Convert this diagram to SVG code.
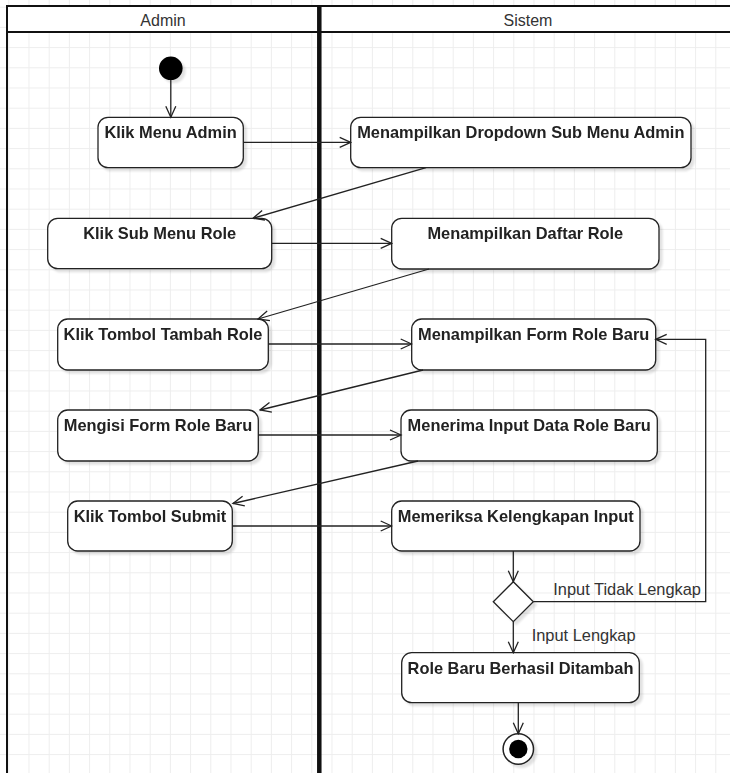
<svg xmlns="http://www.w3.org/2000/svg" width="730" height="773" viewBox="0 0 730 773">
  <defs>
    <pattern id="grid" patternUnits="userSpaceOnUse" x="8.3" y="6.7" width="20.2" height="20.2">
      <path d="M0.5,0 V20.2 M0,0.5 H20.2" fill="none" stroke="#ededed" stroke-width="1"/>
    </pattern>
    <filter id="sh" x="-20%" y="-20%" width="150%" height="150%">
      <feGaussianBlur in="SourceAlpha" stdDeviation="1.2"/>
      <feOffset dx="3" dy="3" result="b"/>
      <feComponentTransfer><feFuncA type="linear" slope="0.12"/></feComponentTransfer>
      <feMerge><feMergeNode/><feMergeNode in="SourceGraphic"/></feMerge>
    </filter>
    <marker id="arr" markerUnits="userSpaceOnUse" markerWidth="14" markerHeight="12" viewBox="0 0 14 12" refX="12.5" refY="6" orient="auto">
      <path d="M1.5,1 L12.5,6 L1.5,11" fill="none" stroke="#222" stroke-width="1.3"/>
    </marker>
    <style>
      .node rect { fill: #fff; stroke: #222; stroke-width: 1.3; }
      .node text { font-family: "Liberation Sans", Arial, sans-serif; font-size: 16.4px; font-weight: bold; fill: #222; text-anchor: middle; }
      .lane { font-family: "Liberation Sans", Arial, sans-serif; font-size: 16px; fill: #333; text-anchor: middle; }
      .lbl { font-family: "Liberation Sans", Arial, sans-serif; font-size: 16.4px; fill: #333; }
      .edges path { fill: none; stroke: #222; stroke-width: 1.3; marker-end: url(#arr); }
    </style>
  </defs>

  <rect x="0" y="0" width="730" height="773" fill="#fff"/>
  <rect x="0" y="0" width="730" height="773" fill="url(#grid)"/>

  <g id="lanes">
    <rect x="7" y="6" width="730" height="26" fill="#fff"/>
    <line x1="7" y1="6" x2="730" y2="6" stroke="#111" stroke-width="2"/>
    <line x1="7" y1="32" x2="730" y2="32" stroke="#111" stroke-width="2"/>
    <line x1="7" y1="5" x2="7" y2="773" stroke="#111" stroke-width="2"/>
    <line x1="319.3" y1="5" x2="319.3" y2="773" stroke="#111" stroke-width="4.5"/>
    <text class="lane" x="163" y="26">Admin</text>
    <text class="lane" x="528" y="26">Sistem</text>
  </g>

  <g id="start" filter="url(#sh)">
    <circle cx="170.8" cy="68.3" r="11.8" fill="#000"/>
  </g>

  <g id="n1" class="node" filter="url(#sh)">
    <rect x="98" y="117.3" width="145.3" height="50.4" rx="10"/>
    <text x="170.6" y="138.3">Klik Menu Admin</text>
  </g>
  <g id="n2" class="node" filter="url(#sh)">
    <rect x="350.7" y="117.3" width="340.3" height="50.4" rx="10"/>
    <text x="520.8" y="138.3">Menampilkan Dropdown Sub Menu Admin</text>
  </g>
  <g id="n3" class="node" filter="url(#sh)">
    <rect x="47.7" y="218.3" width="224" height="50.4" rx="10"/>
    <text x="159.7" y="239.3">Klik Sub Menu Role</text>
  </g>
  <g id="n4" class="node" filter="url(#sh)">
    <rect x="391.7" y="218.3" width="267.3" height="50.7" rx="10"/>
    <text x="525.3" y="239.3">Menampilkan Daftar Role</text>
  </g>
  <g id="n5" class="node" filter="url(#sh)">
    <rect x="57.7" y="319" width="210.6" height="51" rx="10"/>
    <text x="163" y="340">Klik Tombol Tambah Role</text>
  </g>
  <g id="n6" class="node" filter="url(#sh)">
    <rect x="411.7" y="319" width="244" height="51" rx="10"/>
    <text x="533.7" y="340">Menampilkan Form Role Baru</text>
  </g>
  <g id="n7" class="node" filter="url(#sh)">
    <rect x="57.7" y="410" width="200.6" height="51" rx="10"/>
    <text x="158" y="431">Mengisi Form Role Baru</text>
  </g>
  <g id="n8" class="node" filter="url(#sh)">
    <rect x="401" y="410" width="256.3" height="51" rx="10"/>
    <text x="529.2" y="431">Menerima Input Data Role Baru</text>
  </g>
  <g id="n9" class="node" filter="url(#sh)">
    <rect x="67.7" y="501" width="164.6" height="50" rx="10"/>
    <text x="150" y="522">Klik Tombol Submit</text>
  </g>
  <g id="n10" class="node" filter="url(#sh)">
    <rect x="391.7" y="501" width="248.3" height="50" rx="10"/>
    <text x="515.8" y="522">Memeriksa Kelengkapan Input</text>
  </g>
  <g id="decision" filter="url(#sh)">
    <path d="M513.3,581.7 L533.3,601.7 L513.3,621.7 L493.3,601.7 Z" fill="#fff" stroke="#222" stroke-width="1.3"/>
  </g>
  <g id="n11" class="node" filter="url(#sh)">
    <rect x="401.7" y="652.7" width="237.6" height="50" rx="10"/>
    <text x="520.5" y="673.7">Role Baru Berhasil Ditambah</text>
  </g>
  <g id="end" filter="url(#sh)">
    <circle cx="518.3" cy="749" r="15.2" fill="#fff" stroke="#222" stroke-width="1.5"/>
    <circle cx="518.3" cy="749" r="9.2" fill="#000"/>
  </g>

  <g id="edges" class="edges">
    <path d="M170.8,80.1 L170.8,117.3"/>
    <path d="M243.3,142.3 L350.7,142.3"/>
    <path d="M426,167.7 L253,218.3"/>
    <path d="M271.7,243.3 L391.7,243.3"/>
    <path d="M429,269 L258,319"/>
    <path d="M268.3,344 L411.7,344"/>
    <path d="M423,370 L260,410"/>
    <path d="M258.3,435 L401,435"/>
    <path d="M418,461 L233,503.5"/>
    <path d="M232.3,526 L391.7,526"/>
    <path d="M513.3,551 L513.3,581.7"/>
    <path d="M533.3,601.7 L705.7,601.7 L705.7,339.3 L655.7,339.3"/>
    <path d="M513.3,621.7 L513.3,652.7"/>
    <path d="M518.3,702.7 L518.3,733.8"/>
  </g>

  <g id="labels">
    <text class="lbl" x="553.3" y="595">Input Tidak Lengkap</text>
    <text class="lbl" x="531.7" y="641">Input Lengkap</text>
  </g>
</svg>
